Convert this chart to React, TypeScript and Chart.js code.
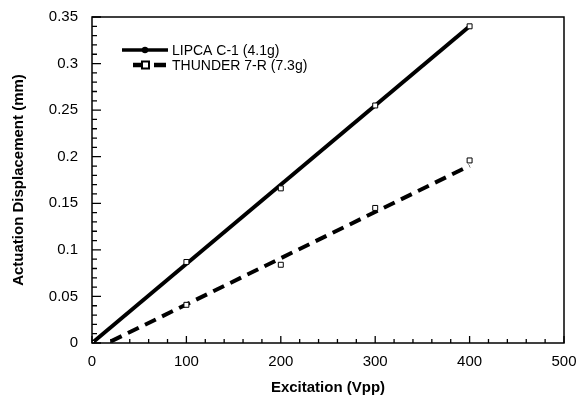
import React, { useEffect, useRef } from "react";
import { Chart, registerables } from "chart.js";

Chart.register(...registerables);

// ---- Data ----
const excitation = [0, 100, 200, 300, 400];
const lipcaDisp = [0, 0.087, 0.166, 0.255, 0.34];
const thunderDisp = [0, 0.041, 0.084, 0.145, 0.196];

const lipcaFitX = [0, 400];
const lipcaFitY = [0, 0.34];
const thunderFitX = [20, 400];
const thunderFitY = [0.0017, 0.1903];

const xTicks = [0, 100, 200, 300, 400, 500];
const yTicks = [0, 0.05, 0.1, 0.15, 0.2, 0.25, 0.3, 0.35];
const xMinorStep = 20;
const yMinorStep = 0.01;

const seriesLabels = ["LIPCA C-1 (4.1g)", "THUNDER 7-R (7.3g)"];
const xTitle = "Excitation (Vpp)";
const yTitle = "Actuation Displacement (mm)";

const FONT = "'Liberation Sans', Arial, Helvetica, sans-serif";

const toPts = (xs: number[], ys: number[]) => xs.map((x, i) => ({ x, y: ys[i] }));

const frameTicksPlugin = {
  id: "frameTicks",
  afterDatasetsDraw(chart: any) {
    const { ctx, chartArea: a, scales } = chart;
    const xs = scales.x;
    const ys = scales.y;
    ctx.save();
    ctx.strokeStyle = "#000";
    ctx.lineWidth = 1.5;
    ctx.strokeRect(a.left, a.top, a.right - a.left, a.bottom - a.top);
    ctx.lineWidth = 1.3;
    ctx.beginPath();
    for (let v = xTicks[0]; v <= xTicks[xTicks.length - 1] + 1e-9; v += xMinorStep) {
      const major = xTicks.some((t) => Math.abs(t - v) < 1e-6);
      const px = xs.getPixelForValue(v);
      ctx.moveTo(px, a.bottom);
      ctx.lineTo(px, a.bottom - (major ? 7 : 4));
    }
    const n = Math.round((yTicks[yTicks.length - 1] - yTicks[0]) / yMinorStep);
    for (let i = 0; i <= n; i++) {
      const v = yTicks[0] + i * yMinorStep;
      const major = yTicks.some((t) => Math.abs(t - v) < 1e-6);
      const py = ys.getPixelForValue(v);
      ctx.moveTo(a.left, py);
      ctx.lineTo(a.left + (major ? 9 : 5), py);
    }
    ctx.stroke();
    ctx.restore();
  },
};

const legendPlugin = {
  id: "customLegend",
  afterDraw(chart: any) {
    const { ctx, chartArea: a } = chart;
    const x0 = a.left + 30;
    const y1 = a.top + 33;
    const y2 = a.top + 48;
    const textX = a.left + 80;
    ctx.save();
    ctx.strokeStyle = "#000";
    ctx.fillStyle = "#000";
    ctx.lineWidth = 3.5;
    ctx.beginPath();
    ctx.moveTo(x0, y1);
    ctx.lineTo(a.left + 76, y1);
    ctx.stroke();
    ctx.beginPath();
    ctx.arc(a.left + 53, y1, 3.2, 0, Math.PI * 2);
    ctx.fill();
    ctx.lineWidth = 4.5;
    ctx.setLineDash([12, 9]);
    ctx.beginPath();
    ctx.moveTo(a.left + 41, y2);
    ctx.lineTo(a.left + 75, y2);
    ctx.stroke();
    ctx.setLineDash([]);
    ctx.fillStyle = "#fff";
    ctx.fillRect(a.left + 50, y2 - 3.5, 7, 7);
    ctx.lineWidth = 2;
    ctx.strokeRect(a.left + 50, y2 - 3.5, 7, 7);
    ctx.fillStyle = "#000";
    ctx.font = `14px ${FONT}`;
    ctx.textBaseline = "middle";
    ctx.textAlign = "left";
    ctx.fillText(seriesLabels[0], textX, y1 + 1);
    ctx.fillText(seriesLabels[1], textX, y2 + 1);
    ctx.restore();
  },
};

export default function App() {
  const ref = useRef<HTMLCanvasElement | null>(null);

  useEffect(() => {
    if (!ref.current) return;
    const chart = new Chart(ref.current, {
      type: "line",
      data: {
        datasets: [
          {
            label: seriesLabels[0] + " data",
            data: toPts(excitation, lipcaDisp),
            showLine: false,
            pointStyle: "rect",
            pointRadius: 3.5,
            pointBackgroundColor: "#fff",
            pointBorderColor: "#000",
            pointBorderWidth: 1,
          },
          {
            label: seriesLabels[1] + " data",
            data: toPts(excitation, thunderDisp),
            showLine: false,
            pointStyle: "rect",
            pointRadius: 3.5,
            pointBackgroundColor: "#fff",
            pointBorderColor: "#000",
            pointBorderWidth: 1,
          },
          {
            label: seriesLabels[0],
            data: toPts(lipcaFitX, lipcaFitY),
            borderColor: "#000",
            borderWidth: 4,
            pointRadius: 0,
            fill: false,
          },
          {
            label: seriesLabels[1],
            data: toPts(thunderFitX, thunderFitY),
            borderColor: "#000",
            borderWidth: 4,
            borderDash: [12, 7],
            pointRadius: 0,
            fill: false,
          },
        ],
      },
      options: {
        animation: false,
        responsive: false,
        layout: { padding: { left: 0, top: 17, right: 12, bottom: 0 } },
        plugins: {
          legend: { display: false },
          tooltip: { enabled: false },
        },
        scales: {
          x: {
            type: "linear",
            min: xTicks[0],
            max: xTicks[xTicks.length - 1],
            afterBuildTicks: (s: any) => {
              s.ticks = xTicks.map((v) => ({ value: v }));
            },
            afterFit: (s: any) => {
              s.height = 56;
              s.paddingLeft = 0;
              s.paddingRight = 0;
            },
            grid: { display: false, drawTicks: false },
            border: { display: false },
            ticks: {
              color: "#000",
              padding: 10,
              maxRotation: 0,
              font: { family: FONT, size: 15 },
            },
            title: {
              display: true,
              text: xTitle,
              color: "#000",
              padding: { top: 0, bottom: 2 },
              font: { family: FONT, size: 15, weight: "bold" },
            },
          },
          y: {
            type: "linear",
            min: yTicks[0],
            max: yTicks[yTicks.length - 1],
            afterBuildTicks: (s: any) => {
              s.ticks = yTicks.map((v) => ({ value: v }));
            },
            afterFit: (s: any) => {
              s.width = 92;
              s.paddingTop = 0;
              s.paddingBottom = 0;
            },
            grid: { display: false, drawTicks: false },
            border: { display: false },
            ticks: {
              color: "#000",
              padding: 14,
              font: { family: FONT, size: 15 },
              callback: (v: any) => String(Number(Number(v).toFixed(2))),
            },
            title: {
              display: true,
              text: yTitle,
              color: "#000",
              padding: { top: 10, bottom: 0 },
              font: { family: FONT, size: 15, weight: "bold" },
            },
          },
        },
      },
      plugins: [frameTicksPlugin, legendPlugin],
    } as any);
    return () => chart.destroy();
  }, []);

  return (
    <canvas
      ref={ref}
      width={576}
      height={399}
      style={{ position: "absolute", left: 0, top: 0, display: "block", background: "#fff" }}
    />
  );
}
